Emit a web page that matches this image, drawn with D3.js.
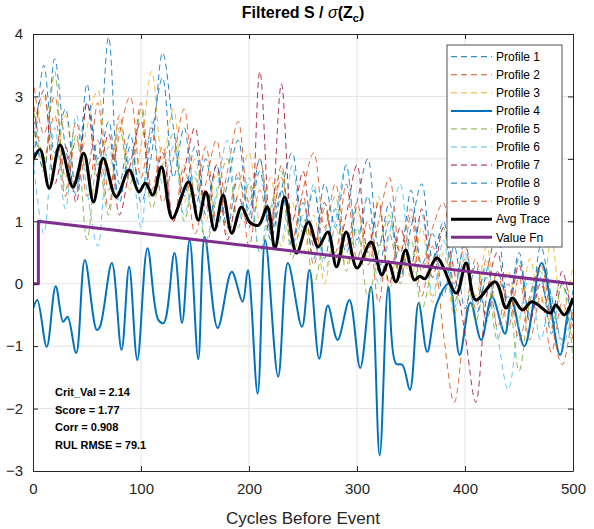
<!DOCTYPE html>
<html>
<head>
<meta charset="utf-8">
<script src="https://cdn.jsdelivr.net/npm/d3@7"></script>
<style>
  body { margin: 0; background: #fff; }
  svg { font-family: Arial, "Liberation Sans", Helvetica, sans-serif; }
</style>
</head>
<body>
<svg width="594" height="529"></svg>
<script>
// sampled every 10 cycles for the dashed profiles
var cycles = d3.range(0, 501, 10);

var profile1 = [2.6,1.8,3.6,2.2,1.5,2.9,2.0,3.95,1.6,2.4,1.3,2.1,3.7,2.5,1.4,2.2,1.1,1.9,0.9,1.7,1.2,2.0,0.8,1.5,0.6,1.3,0.4,1.6,0.9,1.9,0.7,1.4,0.2,1.0,0.5,1.5,0.3,0.8,-0.2,0.6,-0.4,0.3,-0.6,0.2,-0.3,0.5,-0.5,0.1,-0.8,0.0,-0.6];
var profile2 = [3.3,2.4,3.0,1.7,2.6,1.4,2.3,1.2,2.7,1.8,2.9,1.5,2.2,1.0,1.9,0.8,1.6,2.3,1.1,1.8,0.6,1.5,0.9,1.9,0.7,1.4,0.3,1.2,0.5,1.6,0.4,1.0,-0.3,0.8,0.1,1.1,-0.2,0.6,-0.8,-1.9,-0.6,0.4,-0.5,0.2,-0.7,0.1,-0.9,-0.2,-1.1,-0.3,-0.9];
var profile3 = [2.2,3.0,1.9,2.7,1.6,2.5,3.1,1.8,2.6,1.5,2.2,3.4,2.0,2.8,1.3,2.0,1.0,1.8,0.8,1.5,2.1,1.0,1.7,0.6,1.3,0.5,1.1,0.0,0.9,0.3,1.2,0.4,1.4,-0.1,0.6,0.1,0.9,-0.3,0.5,-0.5,0.3,-0.2,0.6,-0.4,0.2,-0.6,0.4,-0.3,0.7,-0.5,0.3];
var profile5 = [2.9,1.8,3.4,1.5,2.4,0.7,2.0,1.1,2.5,1.6,2.8,1.2,1.9,2.4,1.0,1.7,0.6,1.4,2.0,0.9,1.6,0.5,1.2,1.8,0.4,1.1,0.0,0.8,1.4,0.2,0.9,-0.2,0.5,1.1,0.0,0.7,-0.4,0.3,0.9,-0.3,0.4,-0.6,0.1,-0.9,-0.2,-1.4,-0.3,0.2,-0.7,0.0,-1.2];
var profile6 = [2.0,0.8,2.5,1.2,2.7,1.5,0.6,2.2,1.4,2.0,0.9,2.6,1.6,2.2,1.1,1.8,0.7,1.5,2.3,1.0,1.7,0.5,1.3,0.7,1.9,0.8,1.6,0.2,1.0,1.9,0.6,1.4,0.0,0.8,1.6,0.4,1.1,-0.2,0.7,-0.4,0.5,-0.3,0.3,-0.8,-1.7,-0.6,0.1,-0.9,-0.2,-1.0,-0.4];
var profile7 = [2.4,3.1,1.6,2.2,1.3,2.9,1.7,2.4,1.1,1.9,2.6,1.4,2.1,1.0,1.8,2.5,1.2,1.9,0.7,1.4,0.9,3.4,0.8,3.2,1.0,1.8,0.6,1.3,0.4,1.1,1.9,0.5,1.3,0.0,0.9,0.3,1.2,0.1,0.9,0.2,-0.8,-1.9,-0.2,0.5,-0.4,0.3,-0.6,0.0,-0.5,0.2,-0.7];
var profile8 = [1.7,3.5,2.1,2.8,1.4,3.2,1.9,2.6,1.3,2.2,1.5,2.4,3.3,1.7,2.5,1.2,2.0,0.9,1.6,2.3,1.1,1.8,0.7,1.5,2.1,0.9,1.5,0.4,1.2,0.5,1.3,2.0,0.6,1.3,0.1,0.9,1.6,0.4,1.0,-0.1,0.7,-0.5,0.2,0.8,-0.3,0.4,-0.6,0.6,-0.2,-0.9,-0.1];
var profile9 = [3.0,2.0,2.7,1.4,2.3,1.8,2.9,1.5,2.4,3.0,1.7,2.5,1.3,2.0,2.8,1.4,2.2,1.0,1.8,2.6,1.3,2.0,1.0,1.7,0.7,1.5,2.1,0.9,1.6,0.6,1.3,0.3,1.0,1.7,0.5,1.2,0.2,0.9,1.3,0.0,0.6,-0.4,0.4,-0.7,0.0,-0.9,-0.2,0.3,-0.6,-1.3,-0.4];

// profile 4 and the average, read at their peaks and troughs
var profile4Cycles = [0,4,12.7,21,28,32,40,48,59,62,73,82,89,96.6,106,116,121,131,138,145,153,159,171,184,194,199,208,215,227,236,249,256,265,273,282,293,303,313,321,329,336,342,349,357,365,374,385,395,405,415,425,437,443,455,471,488,496,500];
var profile4Values = [-0.40,-0.26,-1.01,-0.04,-0.61,-0.53,-1.11,0.38,-0.74,-0.69,0.33,-1.06,0.27,-1.22,0.57,-0.58,-0.63,0.49,-0.63,0.70,-1.21,0.75,-0.71,0.19,-0.29,0.22,-1.76,0.70,-1.49,0.33,-0.69,0.22,-1.20,-0.35,-0.90,-0.26,-1.35,-0.05,-2.75,-0.05,-1.28,-1.30,-1.70,-0.31,-1.09,-0.31,0.00,-1.14,-0.30,-0.90,-0.21,-0.80,-0.26,-1.00,0.33,-1.14,-0.42,-0.30];

var avgCycles = [0,6.5,15,25,37,47,56,65,77,89,98,104,111,119,129,144,153,160,168,176,184,193,201,209,217,224,233,244,255,264,273,281,290,300,313,323,329,336,345,353,358,363,374,392,401,410,428,438,444,453,462,479,484,492,500];
var avgValues = [1.98,2.15,1.53,2.22,1.55,2.09,1.31,2.01,1.39,1.82,1.47,1.61,1.42,1.87,1.05,1.63,1.02,1.47,0.86,1.42,0.81,1.23,0.98,0.94,1.23,0.57,1.39,0.49,0.99,0.59,0.83,0.27,0.83,0.25,0.67,0.14,0.35,0.03,0.54,0.06,0.12,0.08,0.41,-0.15,0.33,-0.26,0.03,-0.39,-0.23,-0.42,-0.29,-0.47,-0.34,-0.50,-0.23];

var valueFnCycles = [0, 5, 5, 500];
var valueFnValues = [0, 0, 1, 0];

var xTicks = [0, 100, 200, 300, 400, 500];
var yTicks = [-3, -2, -1, 0, 1, 2, 3, 4];

var legendNames = ["Profile 1","Profile 2","Profile 3","Profile 4","Profile 5","Profile 6","Profile 7","Profile 8","Profile 9","Avg Trace","Value Fn"];
var statLines = ["Crit_Val = 2.14", "Score = 1.77", "Corr = 0.908", "RUL RMSE = 79.1"];

// matlab default line colours
var colors = ["#0072BD","#D95319","#EDB120","#0072BD","#77AC30","#4DBEEE","#A2142F","#0072BD","#D95319","#000000","#7E2F8E"];

var svg = d3.select("svg");
var margin = {left: 33, right: 21, top: 34, bottom: 58};
var width = 594 - margin.left - margin.right,
    height = 529 - margin.top - margin.bottom;

var x = d3.scaleLinear().domain([0, 500]).range([0, width]);
var y = d3.scaleLinear().domain([-3, 4]).range([height, 0]);

var g = svg.append("g")
    .attr("transform", "translate(" + margin.left + "," + margin.top + ")");

g.append("defs").append("clipPath").attr("id", "plotclip")
  .append("rect").attr("width", width).attr("height", height);

// grid
g.append("g").selectAll("line").data(xTicks.slice(1, -1)).enter().append("line")
    .attr("x1", x).attr("x2", x).attr("y1", 0).attr("y2", height)
    .attr("stroke", "#e3e3e3");
g.append("g").selectAll("line").data(yTicks.slice(1, -1)).enter().append("line")
    .attr("y1", y).attr("y2", y).attr("x1", 0).attr("x2", width)
    .attr("stroke", "#e3e3e3");

var line = d3.line()
    .x(function(d) { return x(d[0]); })
    .y(function(d) { return y(d[1]); });

var smooth = d3.curveCatmullRom.alpha(0.5);
var dashed = [profile1, profile2, profile3, null, profile5, profile6, profile7, profile8, profile9];
var series = dashed.map(function(vals, i) {
  if (i === 3) return { i: i, pts: d3.zip(profile4Cycles, profile4Values), dash: null, w: 2, curve: smooth };
  return { i: i, pts: d3.zip(cycles, vals), dash: "6,4", w: 1, curve: smooth };
});
series.push({ i: 9, pts: d3.zip(avgCycles, avgValues), dash: null, w: 3, curve: smooth });
series.push({ i: 10, pts: d3.zip(valueFnCycles, valueFnValues), dash: null, w: 3, curve: d3.curveLinear });

var lines = g.append("g").attr("clip-path", "url(#plotclip)");
series.forEach(function(s) {
  lines.append("path")
      .attr("d", line.curve(s.curve)(s.pts))
      .attr("fill", "none")
      .attr("stroke", colors[s.i])
      .attr("stroke-opacity", s.dash ? 0.85 : 1)
      .attr("stroke-width", s.w)
      .attr("stroke-dasharray", s.dash)
      .attr("stroke-linejoin", "round");
});

// axes, matlab style with inward ticks and a box
var axisColor = "#262626";
g.append("g").attr("transform", "translate(0," + height + ")")
    .call(d3.axisBottom(x).tickValues(xTicks).tickSizeInner(-5).tickSizeOuter(0).tickPadding(12));
g.append("g")
    .call(d3.axisLeft(y).tickValues(yTicks).tickFormat(d3.format("d")).tickSizeInner(-5).tickSizeOuter(0).tickPadding(10));
g.append("g").call(d3.axisTop(x).tickValues(xTicks).tickSizeInner(-5).tickSizeOuter(0).tickFormat(""));
g.append("g").attr("transform", "translate(" + width + ",0)")
    .call(d3.axisRight(y).tickValues(yTicks).tickSizeInner(-5).tickSizeOuter(0).tickFormat(""));
g.selectAll(".domain, .tick line").attr("stroke", axisColor);
g.selectAll(".tick text").attr("fill", axisColor).style("font-size", "15px")
    .style("font-family", "Arial, 'Liberation Sans', sans-serif");

// title and x label
var title = svg.append("text")
    .attr("x", margin.left + width / 2).attr("y", 18)
    .attr("text-anchor", "middle")
    .style("font-size", "16px").style("font-weight", "bold");
title.append("tspan").text("Filtered S / ");
title.append("tspan").text("σ").style("font-style", "italic").style("font-weight", "normal");
title.append("tspan").text("(Z");
title.append("tspan").text("c").attr("dy", 4).style("font-size", "11px");
title.append("tspan").text(")").attr("dy", -4);

svg.append("text")
    .attr("x", margin.left + width / 2).attr("y", 524)
    .attr("text-anchor", "middle")
    .attr("fill", axisColor)
    .style("font-size", "17px")
    .text("Cycles Before Event");

// stats text
g.append("g").selectAll("text").data(statLines).enter().append("text")
    .attr("x", 22)
    .attr("y", function(d, i) { return 358 + i * 17.5 + 4; })
    .style("font-size", "11px").style("font-weight", "bold")
    .text(function(d) { return d; });

// legend
var legend = svg.append("g").attr("transform", "translate(447,45)");
legend.append("rect")
    .attr("width", 115).attr("height", 202)
    .attr("fill", "#fff").attr("stroke", axisColor).attr("stroke-width", 0.8);
var item = legend.selectAll("g.item").data(legendNames).enter().append("g")
    .attr("transform", function(d, i) { return "translate(0," + (11.7 + i * 18.06) + ")"; });
item.append("line")
    .attr("x1", 4).attr("x2", 45)
    .attr("stroke", function(d, i) { return colors[i]; })
    .attr("stroke-width", function(d, i) { return i === 3 ? 2 : (i > 8 ? 3 : 1); })
    .attr("stroke-dasharray", function(d, i) { return (i === 3 || i > 8) ? null : "6,4"; });
item.append("text")
    .attr("x", 49).attr("dy", "0.35em")
    .style("font-size", "12px")
    .text(function(d) { return d; });
</script>
</body>
</html>
